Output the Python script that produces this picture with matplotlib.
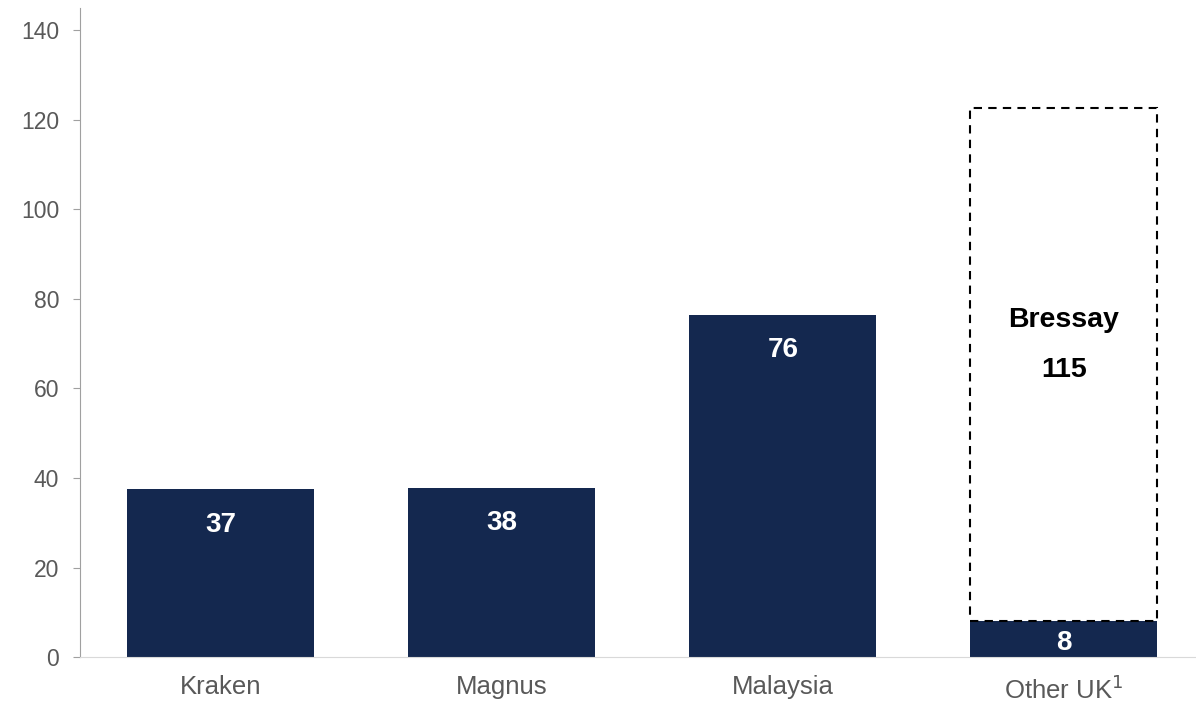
import matplotlib
matplotlib.use("Agg")
import matplotlib.pyplot as plt
from matplotlib.patches import Rectangle

plt.rcParams['font.family'] = ['Liberation Sans', 'DejaVu Sans']

# data
categories = ['Kraken', 'Magnus', 'Malaysia', 'Other UK$^{1}$']
values = [37.5, 37.8, 76.4, 8.0]
value_labels = ['37', '38', '76', '8']
bressay = 115
bressay_label = 'Bressay'

navy = '#14284f'
grey_text = '#595959'

fig = plt.figure(figsize=(11.96, 7.02), dpi=100)
ax = fig.add_axes([0.067, 0.064, 0.94, 0.925])

x = list(range(len(categories)))
bars = ax.bar(x, values, width=0.665, color=navy, zorder=2)

# dashed outline for Bressay stacked on top of Other UK
b = bars[-1]
ax.add_patch(Rectangle((b.get_x(), values[-1]), b.get_width(), bressay - 0.5,
                       fill=False, edgecolor='black', linestyle=(0, (4, 3)),
                       linewidth=1.5, zorder=3))

# value labels inside bars (baseline placement)
for i, (v, lab) in enumerate(zip(values, value_labels)):
    y = v - 9.5 if v > 20 else 1.6
    ax.text(i, y, lab, ha='center', va='baseline',
            color='white', fontsize=20, fontweight='bold', zorder=4)

ax.text(3, 73.7, bressay_label, ha='center', va='baseline',
        fontsize=20.5, fontweight='bold')
ax.text(3, 62.6, str(bressay), ha='center', va='baseline',
        fontsize=20.5, fontweight='bold')

ax.set_xlim(-0.5, 3.5)
ax.set_ylim(0, 145)
ax.set_yticks(range(0, 141, 20))
ax.set_xticks(x)
ax.set_xticklabels(categories)
ax.tick_params(axis='y', colors='#a0a0a0', labelcolor=grey_text, labelsize=16.5,
               length=5, pad=10)
ax.tick_params(axis='x', length=0, labelcolor=grey_text, labelsize=18.5, pad=13)

for s in ['top', 'right']:
    ax.spines[s].set_visible(False)
ax.spines['left'].set_color('#a0a0a0')
ax.spines['bottom'].set_color('#d9d9d9')

fig.savefig('out.png', dpi=100)
